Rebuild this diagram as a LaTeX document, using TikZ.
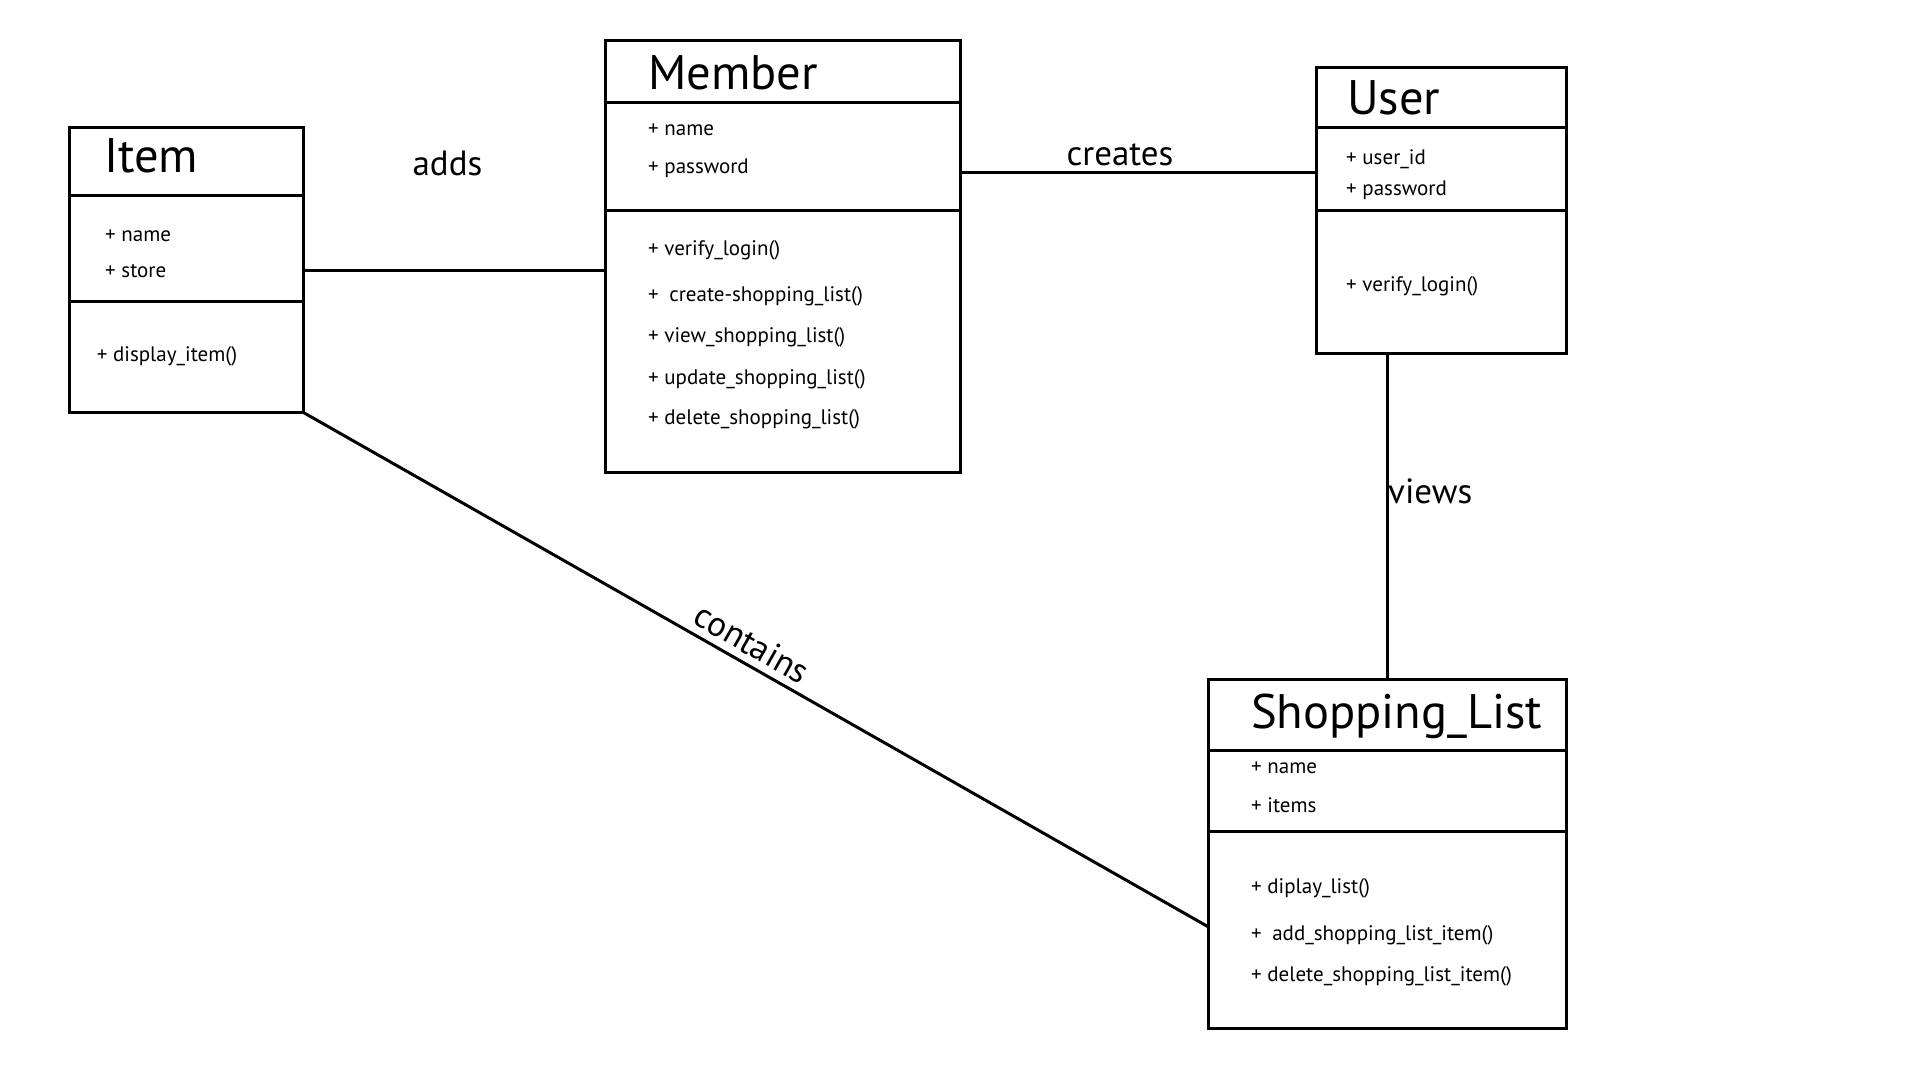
\documentclass[tikz,border=0pt]{standalone}
\usepackage{fontspec}
\setmainfont{PT Sans}
\tikzset{
  box/.style={draw, line width=3pt, inner sep=0pt, outer sep=0pt, anchor=north west},
  sepline/.style={line width=3pt},
  conn/.style={line width=3pt},
  ttl/.style={anchor=base west, inner sep=0pt, font=\fontsize{48.5}{48.5}\selectfont},
  attr/.style={anchor=base west, inner sep=0pt, font=\fontsize{21}{21}\selectfont},
  lbl/.style={inner sep=0pt, font=\fontsize{35}{35}\selectfont}
}
\begin{document}
\begin{tikzpicture}[x=1pt,y=-1pt]
\useasboundingbox[fill=white] (0,0) rectangle (1920,1080);

% ---------- Item ----------
\node[box, minimum width=234pt, minimum height=285.4pt] (item) at (69.8,127.3) {};
\draw[sepline] (item.west |- 0,195.9) -- (item.east |- 0,195.9);
\draw[sepline] (item.west |- 0,301.2) -- (item.east |- 0,301.2);
\node[ttl] (itemt) at (104,172) {Item};
\node[attr] (itema1) at (105,241) {+ name};
\node[attr] (itema2) at (105,277) {+ store};
\node[attr] (itemm1) at (96.7,361) {+ display\_item()};

% ---------- Member ----------
\node[box, minimum width=355pt, minimum height=432.3pt] (member) at (605,40.4) {};
\draw[sepline] (member.west |- 0,102.9) -- (member.east |- 0,102.9);
\draw[sepline] (member.west |- 0,210.6) -- (member.east |- 0,210.6);
\node[ttl] (membert) at (648,89) {Member};
\node[attr] (membera1) at (648,135.5) {+ name};
\node[attr] (membera2) at (648,173.5) {+ password};
\node[attr] (memberm1) at (648,255.5) {+ verify\_login()};
\node[attr] (memberm2) at (648,301) {+\hspace{0.5em}create-shopping\_list()};
\node[attr] (memberm3) at (648,342.5) {+ view\_shopping\_list()};
\node[attr] (memberm4) at (648,384) {+ update\_shopping\_list()};
\node[attr] (memberm5) at (648,424.5) {+ delete\_shopping\_list()};

% ---------- User ----------
\node[box, minimum width=250pt, minimum height=286.6pt] (user) at (1316,67.3) {};
\draw[sepline] (user.west |- 0,127.3) -- (user.east |- 0,127.3);
\draw[sepline] (user.west |- 0,210.6) -- (user.east |- 0,210.6);
\node[ttl] (usert) at (1347,114.5) {User};
\node[attr] (usera1) at (1346,164) {+ user\_id};
\node[attr] (usera2) at (1346,195.5) {+ password};
\node[attr] (userm1) at (1346,291) {+ verify\_login()};

% ---------- Shopping_List ----------
\node[box, minimum width=357.4pt, minimum height=349pt] (sl) at (1208.6,679.6) {};
\draw[sepline] (sl.west |- 0,750.6) -- (sl.east |- 0,750.6);
\draw[sepline] (sl.west |- 0,831.4) -- (sl.east |- 0,831.4);
\node[ttl] (slt) at (1251,728) {Shopping\_List};
\node[attr] (sla1) at (1251,773.5) {+ name};
\node[attr] (sla2) at (1251,812.5) {+ items};
\node[attr] (slm1) at (1251,893.5) {+ diplay\_list()};
\node[attr] (slm2) at (1251,940) {+\hspace{0.5em}add\_shopping\_list\_item()};
\node[attr] (slm3) at (1251,981.5) {+ delete\_shopping\_list\_item()};

% ---------- connectors ----------
\coordinate (mu) at (0,172.7);
\coordinate (cs) at (0,927);
\draw[conn] (item.east) -- (member.west |- item.east);
\draw[conn] (member.east |- mu) -- (user.west |- mu);
\draw[conn] (sl.north |- user.south) -- (sl.north);
\draw[conn] (item.south east) -- node[lbl, sloped, above=7pt, pos=0.484] (contl) {contains} (sl.west |- cs);

% ---------- labels ----------
\node[lbl, anchor=base] (addsl) at (447.5,175) {adds};
\node[lbl, anchor=base] (createsl) at (1120,165) {creates};
\node[lbl, anchor=base west] (viewsl) at (1388,503) {views};
\end{tikzpicture}
\end{document}
